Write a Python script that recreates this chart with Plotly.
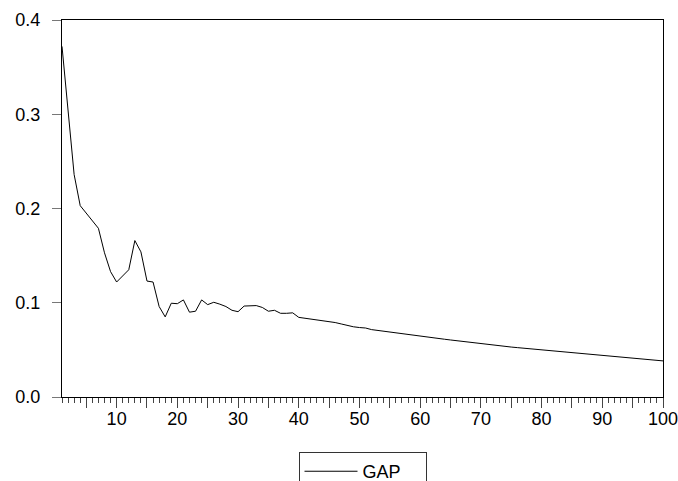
import plotly.graph_objects as go

periods = list(range(1, 101))
gap_values = [
    0.372, 0.300, 0.236, 0.203, 0.195, 0.187, 0.179, 0.153, 0.133, 0.122,
    0.128, 0.135, 0.166, 0.154, 0.123, 0.122, 0.096, 0.085, 0.0995, 0.099,
    0.103, 0.090, 0.091, 0.103, 0.098, 0.1005, 0.0985, 0.096, 0.092, 0.0905,
    0.0965, 0.097, 0.097, 0.095, 0.091, 0.092, 0.0888, 0.0888, 0.0893, 0.0845,
    0.0835, 0.0825, 0.0818, 0.081, 0.0803, 0.079, 0.0775, 0.0758, 0.0745, 0.0737,
    0.0732, 0.0715, 0.0706, 0.0698, 0.069, 0.0682, 0.0672, 0.0663, 0.0652, 0.0642,
    0.0636, 0.0628, 0.062, 0.0613, 0.0605, 0.0597, 0.059, 0.0582, 0.0573, 0.0563,
    0.0557, 0.055, 0.0544, 0.0537, 0.053, 0.0524, 0.0518, 0.0512, 0.0506, 0.0499,
    0.0493, 0.0487, 0.0481, 0.0475, 0.0469, 0.0463, 0.0458, 0.0452, 0.0446, 0.0437,
    0.0432, 0.0427, 0.0422, 0.0416, 0.041, 0.0404, 0.0398, 0.0393, 0.0388, 0.0383,
]
x_tick_vals = [5, 10, 15, 20, 25, 30, 35, 40, 45, 50, 55, 60, 65, 70, 75, 80, 85, 90, 95, 100]
x_tick_text = ["", "10", "", "20", "", "30", "", "40", "", "50", "", "60", "", "70", "", "80", "", "90", "", "100"]
y_tick_vals = [0.0, 0.1, 0.2, 0.3, 0.4]
y_tick_text = ["0.0", "0.1", "0.2", "0.3", "0.4"]

FONT = "Liberation Sans, Arial, sans-serif"
FS = 18

fig = go.Figure()
fig.add_trace(go.Scatter(
    x=periods, y=gap_values, mode="lines", name="GAP",
    line=dict(color="black", width=1),
))

fig.update_layout(
    width=678, height=481,
    margin=dict(l=62, r=15, t=20, b=84, autoexpand=False),
    paper_bgcolor="white", plot_bgcolor="white",
    font=dict(family=FONT, size=FS, color="black"),
    showlegend=True,
    legend=dict(
        orientation="h", x=0.5, xanchor="center", y=-0.146, yanchor="top",
        bordercolor="#333333", borderwidth=1, bgcolor="white",
        font=dict(family=FONT, size=FS, color="black"),
        itemwidth=53, entrywidth=58,
    ),
)
fig.update_xaxes(
    range=[1, 100], showgrid=False, zeroline=False, automargin=False,
    showline=True, linecolor="black", linewidth=1, mirror=True,
    tickmode="array", tickvals=x_tick_vals, ticktext=x_tick_text,
    ticks="outside", ticklen=10, tickwidth=1, tickcolor="#444444",
    minor=dict(dtick=1, tick0=0, ticks="outside", ticklen=5, tickwidth=1, tickcolor="#444444", showgrid=False),
    tickfont=dict(family=FONT, size=FS, color="black"),
    ticklabeloverflow="allow", ticklabelstandoff=-5,
)
fig.update_yaxes(
    range=[0, 0.4], showgrid=False, zeroline=False, automargin=False,
    showline=True, linecolor="black", linewidth=1, mirror=True,
    tickmode="array", tickvals=y_tick_vals, ticktext=y_tick_text,
    ticks="outside", ticklen=9, tickwidth=1, tickcolor="#777777",
    ticklabelstandoff=8, ticklabeloverflow="allow",
    tickfont=dict(family=FONT, size=FS, color="black"),
)

fig.write_html("out.html")
